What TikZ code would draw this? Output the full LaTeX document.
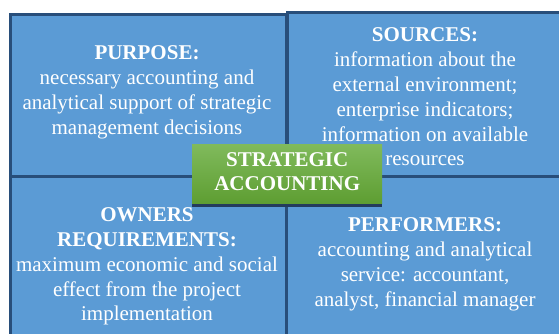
\documentclass[tikz,border=0pt]{standalone}
\usepackage{fontspec}
\setmainfont{Liberation Serif}
\usetikzlibrary{shadows}
\definecolor{boxfill}{RGB}{91,155,213}
\definecolor{boxline}{RGB}{40,78,122}
\definecolor{gtop}{RGB}{128,186,92}
\definecolor{gbot}{RGB}{94,158,50}
\definecolor{gshadow}{RGB}{36,60,92}
\begin{document}
\begin{tikzpicture}[x=1pt,y=-1pt,
  quad/.style={draw=boxline, line width=2.8pt, fill=boxfill, inner sep=0pt, anchor=north west},
  txt/.style={text=white, align=center, font=\rmfamily\fontsize{21}{24.8}\selectfont, inner sep=0pt},
  corebox/.style={anchor=north west, inner sep=0pt, top color=gtop, bottom color=gbot, draw=none,
     drop shadow={shadow xshift=0pt, shadow yshift=-4pt, fill=gshadow, opacity=1}},
]
\useasboundingbox (0,0) rectangle (559,334);
\clip (0,0) rectangle (559,334);
\fill[white] (0,0) rectangle (559,334);
\node[quad, minimum width=276pt, minimum height=162pt] (tl) at (9,13) {};
\node[quad, minimum width=280pt, minimum height=164pt] (tr) at (286,11) {};
\node[quad, minimum width=276pt, minimum height=170pt] (bl) at (9,175) {};
\node[quad, minimum width=281pt, minimum height=170pt] (br) at (285,175) {};
\node[txt] (tltext) at (147,92.5) {\textbf{PURPOSE:}\\necessary accounting and\\analytical support of strategic\\management decisions};
\node[txt] (trtext) at (425,97) {\textbf{SOURCES:}\\information about the\\external environment;\\enterprise indicators;\\information on available\\resources};
\node[txt] (bltext) at (147,266.5) {\textbf{OWNERS}\\\textbf{REQUIREMENTS:}\\maximum economic and social\\effect from the project\\implementation};
\node[txt] (brtext) at (425,264.5) {\textbf{PERFORMERS:}\\accounting and analytical\\service: accountant,\\analyst, financial manager};
\node[corebox, minimum width=190pt, minimum height=59pt] (core) at (192,144) {};
\node[txt] (coretext) at ([yshift=2pt]core.center) {\textbf{STRATEGIC}\\\textbf{ACCOUNTING}};
\end{tikzpicture}
\end{document}
